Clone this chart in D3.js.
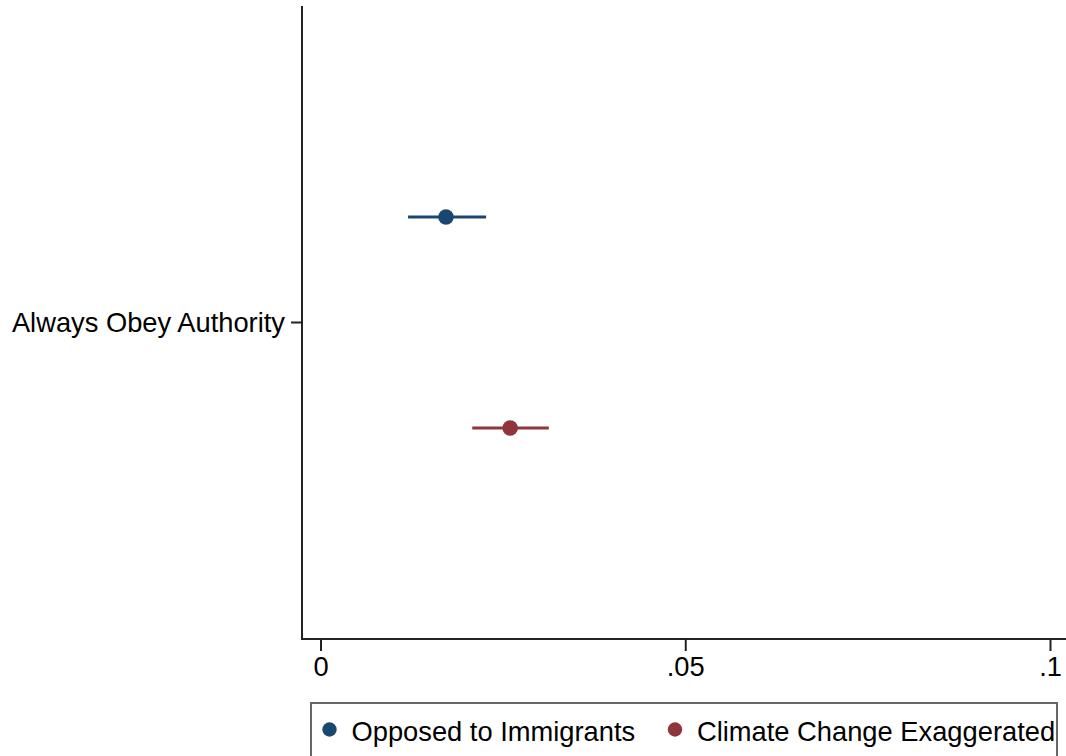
<!DOCTYPE html>
<html>
<head>
<meta charset="utf-8">
<script src="https://cdn.jsdelivr.net/npm/d3@7"></script>
<style>
  html, body { margin: 0; padding: 0; background: #fff; }
  svg { display: block; }
  text { font-family: "Liberation Sans", Arial, Helvetica, sans-serif; fill: #000; }
</style>
</head>
<body>
<svg id="chart" width="1066" height="756"></svg>
<script>
// ---- data ----
const categories = ["Always Obey Authority"];
const seriesNames = ["Opposed to Immigrants", "Climate Change Exaggerated"];
const seriesColors = ["#1a476f", "#90353b"];
const estimates = [0.0172, 0.0260];   // point estimates per series
const ciLow = [0.0120, 0.0208];
const ciHigh = [0.0227, 0.0313];
const xTickValues = [0, 0.05, 0.1];
const xTickLabels = ["0", ".05", ".1"];

// ---- layout ----
const svg = d3.select("#chart");
const plotTop = 6, plotBottom = 639, plotLeft = 302, plotRight = 1066;
const fontSize = 27.3;

const x = d3.scaleLinear().domain([0, 0.1]).range([320.5, 1050]);
const yCat = d3.scaleBand().domain(categories).range([plotBottom, plotTop]);
const ySer = d3.scalePoint().domain(seriesNames).range([yCat.bandwidth() / 3, 2 * yCat.bandwidth() / 3]);

const axisColor = "#222";

// y axis
const yAxisG = svg.append("g").attr("transform", `translate(${plotLeft},0)`);
yAxisG.append("line").attr("x1", 0).attr("x2", 0).attr("y1", plotTop).attr("y2", plotBottom + 1)
  .attr("stroke", axisColor).attr("stroke-width", 2);
categories.forEach(c => {
  const yy = yCat(c) + yCat.bandwidth() / 2;
  yAxisG.append("line").attr("x1", -11).attr("x2", 0).attr("y1", yy).attr("y2", yy)
    .attr("stroke", axisColor).attr("stroke-width", 2);
  yAxisG.append("text").attr("x", -17).attr("y", yy).attr("dy", "0.35em")
    .attr("text-anchor", "end").style("font-size", fontSize + "px").text(c);
});

// x axis
const xAxisG = svg.append("g").attr("transform", `translate(0,${plotBottom})`);
xAxisG.append("line").attr("x1", plotLeft - 1).attr("x2", plotRight).attr("y1", 0).attr("y2", 0)
  .attr("stroke", axisColor).attr("stroke-width", 2);
const xAxis = d3.axisBottom(x).tickValues(xTickValues)
  .tickFormat((d, i) => xTickLabels[i]).tickSize(12).tickPadding(6);
const xg = svg.append("g").attr("transform", `translate(0,${plotBottom})`).call(xAxis);
xg.select(".domain").remove();
xg.selectAll(".tick line").attr("stroke", axisColor).attr("stroke-width", 2);
xg.selectAll(".tick text").style("font-size", fontSize + "px")
  .style("font-family", "'Liberation Sans', Arial, sans-serif").attr("fill", "#000");

// marks
const rows = [];
categories.forEach(c => {
  seriesNames.forEach((s, i) => {
    rows.push({ cat: c, ser: s, est: estimates[i], lo: ciLow[i], hi: ciHigh[i], color: seriesColors[i] });
  });
});
const marks = svg.append("g");
marks.selectAll("line.ci").data(rows).join("line").attr("class", "ci")
  .attr("x1", d => x(d.lo)).attr("x2", d => x(d.hi))
  .attr("y1", d => yCat(d.cat) + ySer(d.ser)).attr("y2", d => yCat(d.cat) + ySer(d.ser))
  .attr("stroke", d => d.color).attr("stroke-width", 2.8);
marks.selectAll("circle.pt").data(rows).join("circle").attr("class", "pt")
  .attr("cx", d => x(d.est)).attr("cy", d => yCat(d.cat) + ySer(d.ser))
  .attr("r", 7.8).attr("fill", d => d.color);

// legend
const legend = svg.append("g");
legend.append("rect").attr("x", 311).attr("y", 703).attr("width", 746).attr("height", 80)
  .attr("fill", "#fff").attr("stroke", "#666").attr("stroke-width", 2);
const legendItemX = [329.5, 675];
seriesNames.forEach((s, i) => {
  legend.append("circle").attr("cx", legendItemX[i]).attr("cy", 729.5).attr("r", 7.2).attr("fill", seriesColors[i]);
  legend.append("text").attr("x", legendItemX[i] + 22).attr("y", 741)
    .style("font-size", fontSize + "px").text(s);
});
</script>
</body>
</html>
